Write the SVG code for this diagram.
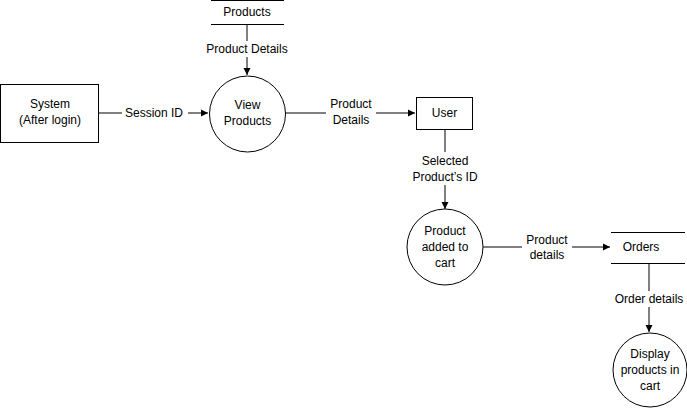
<svg xmlns="http://www.w3.org/2000/svg" width="687" height="409" viewBox="0 0 687 409">
<defs>
<style>
.s{fill:#fff;stroke:#000;stroke-width:1}
.l{fill:none;stroke:#000;stroke-width:1}
text{font-family:"Liberation Sans",Arial,sans-serif;font-size:12px;fill:#000;text-anchor:middle;dominant-baseline:central}
.bg{fill:#fff;stroke:none}
</style>
<marker id="a" markerWidth="8" markerHeight="8" refX="7" refY="4" orient="auto" markerUnits="userSpaceOnUse">
<path d="M0,0.5 L7,4 L0,7.5 Z" fill="#000"/>
</marker>
</defs>
<rect width="687" height="409" fill="#fff"/>
<g id="connectors">
<line class="l" x1="247" y1="24" x2="247" y2="75" marker-end="url(#a)"/>
<rect class="bg" x="200" y="41" width="94" height="16"/>
<text x="247" y="49">Product Details</text>
<line class="l" x1="99" y1="113" x2="208" y2="113" marker-end="url(#a)"/>
<rect class="bg" x="122" y="105" width="66" height="16"/>
<text x="154" y="113">Session ID</text>
<line class="l" x1="285" y1="113" x2="415" y2="113" marker-end="url(#a)"/>
<rect class="bg" x="326" y="96" width="50" height="32"/>
<text x="351" y="104">Product</text>
<text x="351" y="120">Details</text>
<line class="l" x1="445" y1="129" x2="445" y2="209" marker-end="url(#a)"/>
<rect class="bg" x="412" y="152" width="66" height="33"/>
<text x="445" y="161">Selected</text>
<text x="445" y="177">Product’s ID</text>
<line class="l" x1="483" y1="247" x2="610" y2="247" marker-end="url(#a)"/>
<rect class="bg" x="522" y="232" width="50" height="31"/>
<text x="547" y="240">Product</text>
<text x="547" y="255">details</text>
<line class="l" x1="649" y1="263" x2="649" y2="332" marker-end="url(#a)"/>
<rect class="bg" x="610" y="291" width="78" height="16"/>
<text x="649" y="299">Order details</text>
</g>
<g id="products">
<line class="l" x1="211" y1="0.5" x2="284" y2="0.5"/>
<line class="l" x1="211" y1="24.5" x2="284" y2="24.5"/>
<text x="247" y="12">Products</text>
</g>
<g id="system">
<rect class="s" x="0.5" y="84.5" width="98" height="58"/>
<text x="50" y="104">System</text>
<text x="50" y="120">(After login)</text>
</g>
<g id="view-products">
<circle class="s" cx="247.5" cy="114" r="38"/>
<text x="247.5" y="105">View</text>
<text x="247.5" y="121">Products</text>
</g>
<g id="user">
<rect class="s" x="416.5" y="97.5" width="56" height="32"/>
<text x="444.5" y="113">User</text>
</g>
<g id="product-added">
<circle class="s" cx="445" cy="247" r="38"/>
<text x="445" y="231">Product</text>
<text x="445" y="247">added to</text>
<text x="445" y="263">cart</text>
</g>
<g id="orders">
<line class="l" x1="611" y1="232.5" x2="685" y2="232.5"/>
<line class="l" x1="611" y1="263.5" x2="685" y2="263.5"/>
<text x="641" y="247">Orders</text>
</g>
<g id="display">
<circle class="s" cx="650" cy="370" r="37"/>
<text x="650" y="354">Display</text>
<text x="650" y="370">products in</text>
<text x="650" y="386">cart</text>
</g>
</svg>
